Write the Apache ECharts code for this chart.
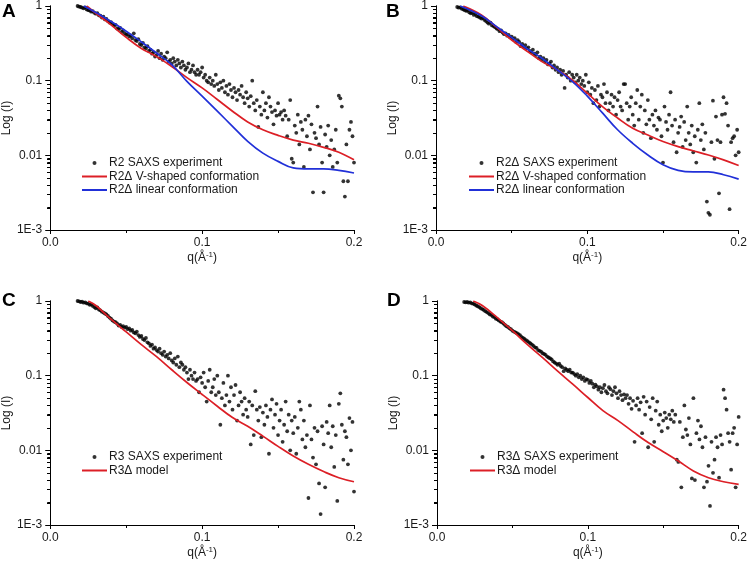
<!DOCTYPE html>
<html>
<head>
<meta charset="utf-8">
<script src="https://cdn.jsdelivr.net/npm/echarts@6/dist/echarts.min.js"></script>
<style>
html,body{margin:0;padding:0;background:#fff;}
#chart{width:750px;height:566px;}
</style>
</head>
<body>
<div id="chart"></div>
<script>
// shared q grid (Å^-1) of the SAXS measurements
const qGrid = [0.014,0.015,0.016,0.017,0.018,0.019,0.020,0.021,0.022,0.023,
0.024,0.025,0.026,0.027,0.028,0.029,0.030,0.031,0.032,0.033,
0.034,0.035,0.036,0.037,0.038,0.039,0.040,0.041,0.042,0.043,
0.044,0.045,0.046,0.047,0.048,0.049,0.050,0.051,0.052,0.053,
0.054,0.055,0.056,0.057,0.058,0.059,0.060,0.061,0.062,0.063,
0.064,0.065,0.066,0.067,0.068,0.069,0.070,0.071,0.072,0.073,
0.074,0.075,0.076,0.077,0.078,0.079,0.080,0.081,0.082,0.083,
0.084,0.085,0.086,0.087,0.088,0.089,0.090,0.091,0.092,0.093,
0.094,0.095,0.096,0.097,0.098,0.099,0.100,0.101,0.102,0.103,
0.104,0.105,0.106,0.107,0.108,0.109,0.110,0.111,0.112,0.113,
0.114,0.115,0.116,0.117,0.118,0.119,0.120,0.121,0.122,0.123,
0.124,0.125,0.126,0.127,0.128,0.129,0.130,0.131,0.132,0.133,
0.134,0.135,0.136,0.137,0.138,0.139,0.140,0.141,0.142,0.143,
0.144,0.145,0.146,0.147,0.148,0.149,0.150,0.151,0.152,0.153,
0.154,0.155,0.156,0.157,0.158,0.159,0.160,0.161,0.162,0.163,
0.164,0.165,0.166,0.167,0.168,0.169,0.170,0.171,0.172,0.173,
0.174,0.175,0.176,0.177,0.178,0.179,0.180,0.181,0.182,0.183,
0.184,0.185,0.186,0.187,0.188,0.189,0.190,0.191,0.192,0.193,
0.194,0.195,0.196,0.197,0.198,0.199,0.200];

// Panel A: R2 SAXS experiment intensities
const expA = [null,null,null,null,
1.0,0.98,0.97,0.95,0.93,0.96,
0.9,0.88,0.87,0.84,0.85,0.81,0.79,0.8,0.75,0.74,
0.7,0.72,0.66,0.67,0.63,0.6,0.61,0.57,0.55,0.56,
0.5,0.49,0.51,0.45,0.47,0.43,0.41,0.42,0.39,0.4,
0.37,0.43,0.35,0.34,0.36,0.31,0.3,0.32,0.28,0.27,
0.29,0.25,0.26,0.23,0.24,0.21,0.22,0.25,0.2,0.23,
0.19,0.21,0.2,0.24,0.18,0.19,0.17,0.2,0.18,0.16,
0.19,0.17,0.15,0.18,0.16,0.14,0.15,0.17,0.13,0.14,
0.16,0.13,0.12,0.14,0.12,0.13,0.15,0.11,0.12,0.1,
0.095,0.11,0.09,0.1,0.085,0.12,0.09,0.075,0.095,0.08,
0.1,0.07,0.085,0.065,0.09,0.075,0.06,0.08,0.07,0.055,
0.075,0.065,0.085,0.06,0.05,0.07,0.058,0.045,0.062,0.1,
0.05,0.04,0.055,0.024,0.045,0.035,0.07,0.04,0.05,0.032,
0.06,0.045,0.038,0.026,0.04,0.034,0.05,0.035,0.038,0.03,
0.04,0.034,0.018,0.03,0.055,0.009,0.008,0.025,0.02,0.035,
0.014,0.028,0.022,0.007,0.03,0.018,0.034,0.012,0.026,0.0032,
0.02,0.017,0.045,0.014,0.024,0.008,0.0032,0.019,0.013,0.025,
0.01,0.016,0.007,0.012,0.022,0.008,0.063,0.058,0.045,0.0045,
0.0028,0.014,0.0045,0.022,0.028,0.018,0.008];

// Panel B: R2Δ SAXS experiment intensities
const expB = [0.97,0.95,0.96,0.92,0.9,0.88,0.86,0.87,0.82,0.8,
0.81,0.76,0.78,0.73,0.72,0.7,0.68,0.69,0.65,0.63,
0.6,0.58,0.6,0.55,0.54,0.52,0.5,0.49,0.46,0.47,
0.44,0.42,0.43,0.4,0.41,0.38,0.39,0.36,0.37,0.33,
0.35,0.33,0.29,0.31,0.28,0.3,0.27,0.28,0.25,0.24,
0.26,0.23,0.22,0.24,0.2,0.21,0.19,0.2,0.18,0.19,
0.165,0.17,0.18,0.15,0.16,0.14,0.15,0.13,0.14,0.12,
0.135,0.08,0.12,0.11,0.13,0.1,0.12,0.11,0.095,0.12,
0.1,0.11,0.09,0.1,0.085,0.12,0.07,0.095,0.065,0.08,
0.05,0.075,0.055,0.085,0.045,0.065,0.06,0.09,0.05,0.07,
0.04,0.05,0.065,0.045,0.06,0.035,0.055,0.07,0.045,0.04,
0.09,0.09,0.05,0.03,0.045,0.06,0.035,0.025,0.05,0.075,
0.03,0.045,0.065,0.02,0.04,0.026,0.055,0.03,0.017,0.035,
0.025,0.04,0.022,0.032,0.03,0.018,0.008,0.045,0.028,0.022,
0.035,0.07,0.025,0.015,0.03,0.011,0.02,0.024,0.033,0.013,
0.028,0.016,0.045,0.02,0.014,0.025,0.011,0.018,0.008,0.022,
0.05,0.016,0.026,0.012,0.02,0.0024,0.0017,0.0016,0.015,0.054,
0.009,0.033,0.016,0.0031,0.015,0.035,0.06,0.036,0.05,0.025,
0.0019,0.015,0.017,0.018,0.01,0.022,0.011];

// Panel C: R3 SAXS experiment intensities
const expC = [null,null,null,null,
1.0,0.99,0.97,0.98,0.95,0.96,
0.93,0.92,0.89,0.9,0.86,0.83,0.8,0.82,0.77,0.75,
0.72,0.7,0.68,0.66,0.63,0.6,0.58,0.55,0.53,0.52,
0.5,0.47,0.48,0.45,0.46,0.44,0.45,0.42,0.43,0.4,
0.41,0.38,0.37,0.39,0.35,0.33,0.34,0.31,0.3,0.32,
0.28,0.27,0.25,0.26,0.23,0.24,0.22,0.21,0.23,0.2,
0.19,0.21,0.18,0.19,0.17,0.2,0.16,0.15,0.17,0.14,
0.18,0.13,0.15,0.14,0.12,0.13,0.11,0.09,0.12,0.1,
0.09,0.11,0.085,0.09,0.06,0.095,0.08,0.11,0.07,0.045,
0.085,0.12,0.06,0.07,0.09,0.055,0.1,0.06,0.022,0.05,
0.08,0.04,0.055,0.1,0.045,0.07,0.035,0.055,0.075,0.025,
0.04,0.06,0.045,0.03,0.05,0.035,0.028,0.045,0.012,0.04,
0.016,0.062,0.035,0.025,0.038,0.015,0.032,0.022,0.04,0.028,
0.009,0.035,0.048,0.02,0.03,0.042,0.016,0.025,0.035,0.013,
0.022,0.045,0.018,0.03,0.01,0.025,0.017,0.028,0.009,0.02,
0.045,0.035,0.014,0.025,0.011,0.016,0.0023,0.04,0.014,0.008,
0.02,0.0065,0.018,0.0036,0.0014,0.021,0.012,0.0032,0.024,0.017,
0.04,0.011,0.021,0.006,0.016,0.0021,0.042,0.058,0.022,0.0075,
0.018,0.015,0.0065,0.027,0.01,0.024,0.0028];

// Panel D: R3Δ SAXS experiment intensities
const expD = [null,null,null,null,
0.97,0.96,0.97,0.95,0.96,0.93,
0.92,0.9,0.87,0.85,0.83,0.8,0.78,0.76,0.73,0.71,
0.69,0.66,0.65,0.62,0.61,0.58,0.57,0.55,0.53,0.52,
0.5,0.48,0.46,0.45,0.43,0.42,0.4,0.39,0.38,0.37,
0.36,0.35,0.33,0.32,0.31,0.3,0.29,0.28,0.27,0.26,
0.25,0.24,0.235,0.22,0.215,0.21,0.2,0.195,0.19,0.18,
0.175,0.17,0.165,0.155,0.15,0.145,0.14,0.145,0.135,0.13,
0.115,0.125,0.12,0.115,0.12,0.11,0.11,0.105,0.1,0.105,
0.095,0.1,0.09,0.095,0.085,0.09,0.088,0.08,0.085,0.078,
0.07,0.076,0.072,0.065,0.07,0.06,0.068,0.075,0.062,0.058,
0.07,0.066,0.055,0.062,0.07,0.058,0.05,0.062,0.055,0.047,
0.056,0.05,0.055,0.042,0.05,0.036,0.046,0.013,0.04,0.05,
0.035,0.044,0.017,0.052,0.03,0.045,0.011,0.038,0.026,0.05,
0.013,0.034,0.045,0.022,0.03,0.018,0.025,0.032,0.027,0.02,
0.03,0.026,0.034,0.024,0.03,0.0075,0.007,0.024,0.0032,0.015,
0.04,0.019,0.016,0.027,0.012,0.0042,0.05,0.004,0.017,0.025,
0.014,0.021,0.011,0.0032,0.015,0.0038,0.0062,0.0018,0.013,0.005,
0.0075,0.015,0.011,0.0043,0.016,0.012,0.065,0.05,0.035,0.017,
0.013,0.0055,0.017,0.02,0.0032,0.012,0.028];

// model curves: q values and intensities
const qModel = [0.03,0.04,0.05,0.06,0.07,0.08,0.09,0.10,0.11,0.12,0.13,0.14,0.15,0.16,0.17,0.18,0.19,0.20];
const vShapeA = [0.8,0.56,0.38,0.27,0.21,0.155,0.11,0.08,0.056,0.039,0.028,0.022,0.0185,0.016,0.0145,0.0128,0.011,0.0087];
const linearA = [0.82,0.62,0.46,0.33,0.235,0.164,0.098,0.062,0.039,0.0245,0.0154,0.0107,0.0083,0.0068,0.0066,0.0066,0.0063,0.0058];
const vShapeB = [0.76,0.52,0.35,0.25,0.18,0.14,0.102,0.068,0.045,0.0316,0.023,0.0187,0.0153,0.0131,0.0115,0.0101,0.0087,0.0073];
const linearB = [0.74,0.53,0.38,0.27,0.2,0.14,0.098,0.062,0.037,0.022,0.0145,0.0101,0.0075,0.0063,0.006,0.006,0.0055,0.0048];
const modelC = [0.87,0.57,0.385,0.26,0.18,0.12,0.081,0.056,0.039,0.0275,0.021,0.0155,0.0113,0.0084,0.0065,0.0052,0.0043,0.0038];
const modelD = [0.87,0.6,0.4,0.26,0.174,0.115,0.077,0.051,0.034,0.025,0.0177,0.0127,0.0096,0.0072,0.0053,0.0043,0.0038,0.0035];
// curve start points [q, I]
const startVA = [0.024,1.0], startLA = [0.022,1.0];
const startVB = [0.018,1.0], startLB = [0.016,1.0];
const startC = [0.025,1.0], startD = [0.024,1.0];

const yTickValues = [0.001,0.01,0.1,1];
const yTickLabels = ['1E-3','0.01','0.1','1'];
const xTickLabels = ['0.0','0.1','0.2'];
const panelLetters = ['A','B','C','D'];
// minor log tick values (2..9 per decade)
const minorLogValues = [0.002,0.003,0.004,0.005,0.006,0.007,0.008,0.009,
  0.02,0.03,0.04,0.05,0.06,0.07,0.08,0.09,
  0.2,0.3,0.4,0.5,0.6,0.7,0.8,0.9];

const RED = '#dc1f26', BLUE = '#2130d8';
const FONT = 'Liberation Sans, Arial, sans-serif';

function expPairs(arr){ const out=[]; qGrid.forEach((q,i)=>{ if(arr[i]!=null) out.push([q,arr[i]]); }); return out; }
function curvePairs(start, arr){ return [start].concat(qModel.map((q,i)=>[q,arr[i]])); }

const grids = [
  {left:49, top:6, width:305, height:224},
  {left:436, top:6, width:306, height:224},
  {left:49, top:301, width:305, height:224},
  {left:437, top:301, width:305, height:224}
];

const textColor = '#1a1a1a';
const xAxes = [], yAxes = [], helperAxes = [];
grids.forEach((g, gi) => {
  xAxes.push({
    type:'value', gridIndex:gi, min:0, max:0.2, interval:0.1,
    axisLine:{show:true, onZero:false, lineStyle:{color:'#000', width:1}},
    axisTick:{show:true, length:4, lineStyle:{color:'#000'}},
    minorTick:{show:true, splitNumber:2, length:3, lineStyle:{color:'#000'}},
    splitLine:{show:false}, minorSplitLine:{show:false},
    axisLabel:{fontSize:12, color:textColor, margin:7, fontFamily:FONT,
      formatter:(v)=>xTickLabels[Math.round(v*10)]},
    name:'q(Å{s|-1})', nameLocation:'middle', nameGap:21,
    nameTextStyle:{fontSize:12, color:textColor, fontFamily:FONT,
      rich:{s:{fontSize:8, verticalAlign:'top', padding:[0,0,5,0], color:textColor, fontFamily:FONT}}}
  });
  yAxes.push({
    type:'log', gridIndex:gi, min:0.001, max:1, logBase:10, position:'left',
    axisLine:{show:true, lineStyle:{color:'#000', width:1}},
    axisTick:{show:true, length:5, lineStyle:{color:'#000'}},
    splitLine:{show:false},
    axisLabel:{fontSize:12, color:textColor, margin:8, fontFamily:FONT,
      formatter:(v)=>{ const i = yTickValues.findIndex(t=>Math.abs(Math.log10(t)-Math.log10(v))<1e-6); return i>=0?yTickLabels[i]:''; }},
    name:'Log (I)', nameLocation:'middle', nameGap:34,
    nameTextStyle:{fontSize:12, color:textColor, fontFamily:FONT}
  });
  // helper axis in log10 space carrying the minor ticks (same extent as the log axis)
  helperAxes.push({
    type:'value', gridIndex:gi, min:-3, max:0, position:'left', offset:0,
    axisLine:{show:true, lineStyle:{color:'#000', width:1}},
    axisLabel:{show:false}, splitLine:{show:false},
    axisTick:{show:true, length:3, customValues:minorLogValues.map(v=>Math.log10(v)), lineStyle:{color:'#000'}}
  });
});

const names = {
  expA:'R2 SAXS experiment', vA:'R2Δ V-shaped conformation', lA:'R2Δ linear conformation',
  expB:'R2Δ SAXS experiment',
  expC:'R3 SAXS experiment', mC:'R3Δ model',
  expD:'R3Δ SAXS experiment', mD:'R3Δ model'
};

function scatter(name, gi, data){
  return {type:'scatter', name, xAxisIndex:gi, yAxisIndex:gi, data, symbolSize:3.8,
    itemStyle:{color:'#000'}, silent:true, z:3};
}
function line(name, gi, data, color){
  return {type:'line', name, xAxisIndex:gi, yAxisIndex:gi, data, smooth:0.4, showSymbol:false, symbol:'none',
    lineStyle:{color, width:1.7}, itemStyle:{color}, silent:true, z:4};
}
// minor ticks of the log axis, placed by the axis' own log scale (api.coord)
function minorTicks(gi){
  return {type:'custom', name:'minorTicks'+gi, xAxisIndex:gi, yAxisIndex:gi, clip:false, silent:true, z:10,
    data:minorLogValues.map(v=>[0.001,v]),
    encode:{x:0, y:1},
    renderItem:(params, api) => {
      const p = api.coord([0, api.value(1)]);
      const x = Math.round(p[0]);
      const y = Math.round(p[1]) + 0.5;
      return {type:'line', shape:{x1:x-3, y1:y, x2:x, y2:y}, style:{stroke:'#000', lineWidth:1, opacity:1}};
    }};
}
// keeps each helper axis attached to a series so its ticks are laid out
function helperAnchor(gi){
  return {type:'scatter', name:'helper'+gi, xAxisIndex:gi, yAxisIndex:4+gi, data:[[0.1,-1.5]],
    symbolSize:0.001, itemStyle:{opacity:0}, silent:true};
}

const series = [
  scatter(names.expA, 0, expPairs(expA)),
  line(names.vA, 0, curvePairs(startVA, vShapeA), RED),
  line(names.lA, 0, curvePairs(startLA, linearA), BLUE),
  scatter(names.expB, 1, expPairs(expB)),
  line(names.vA, 1, curvePairs(startVB, vShapeB), RED),
  line(names.lA, 1, curvePairs(startLB, linearB), BLUE),
  scatter(names.expC, 2, expPairs(expC)),
  line(names.mC, 2, curvePairs(startC, modelC), RED),
  scatter(names.expD, 3, expPairs(expD)),
  line(names.mD, 3, curvePairs(startD, modelD), RED),
  minorTicks(0), minorTicks(1), minorTicks(2), minorTicks(3),
  helperAnchor(0), helperAnchor(1), helperAnchor(2), helperAnchor(3)
];

function lineItem(name){ return {name, itemStyle:{opacity:0, borderWidth:0}}; }
function legend(left, top, items){
  return {left, top, orient:'vertical', itemWidth:25, itemHeight:4, itemGap:1.5,
    selectedMode:false, padding:0,
    textStyle:{fontSize:12, color:textColor, fontFamily:FONT, padding:[0,0,0,-3]},
    data:items};
}

const legends = [
  legend(81, 157, [{name:names.expA, icon:'circle'}, lineItem(names.vA), lineItem(names.lA)]),
  legend(468, 157, [{name:names.expB, icon:'circle'}, lineItem(names.vA), lineItem(names.lA)]),
  legend(81, 451, [{name:names.expC, icon:'circle'}, lineItem(names.mC)]),
  legend(469, 451, [{name:names.expD, icon:'circle'}, lineItem(names.mD)])
];

const letterPos = [[2,2],[386,2],[2,291],[387,291]];
const graphic = panelLetters.map((t,i)=>({
  type:'text', left:letterPos[i][0], top:letterPos[i][1],
  style:{text:t, fontSize:19, fontWeight:'bold', fill:'#000', fontFamily:FONT}
}));

const chart = echarts.init(document.getElementById('chart'), null, {renderer:'canvas'});
chart.setOption({
  animation:false,
  backgroundColor:'#fff',
  grid:grids,
  xAxis:xAxes,
  yAxis:yAxes.concat(helperAxes),
  legend:legends,
  series,
  graphic
});
</script>
</body>
</html>
